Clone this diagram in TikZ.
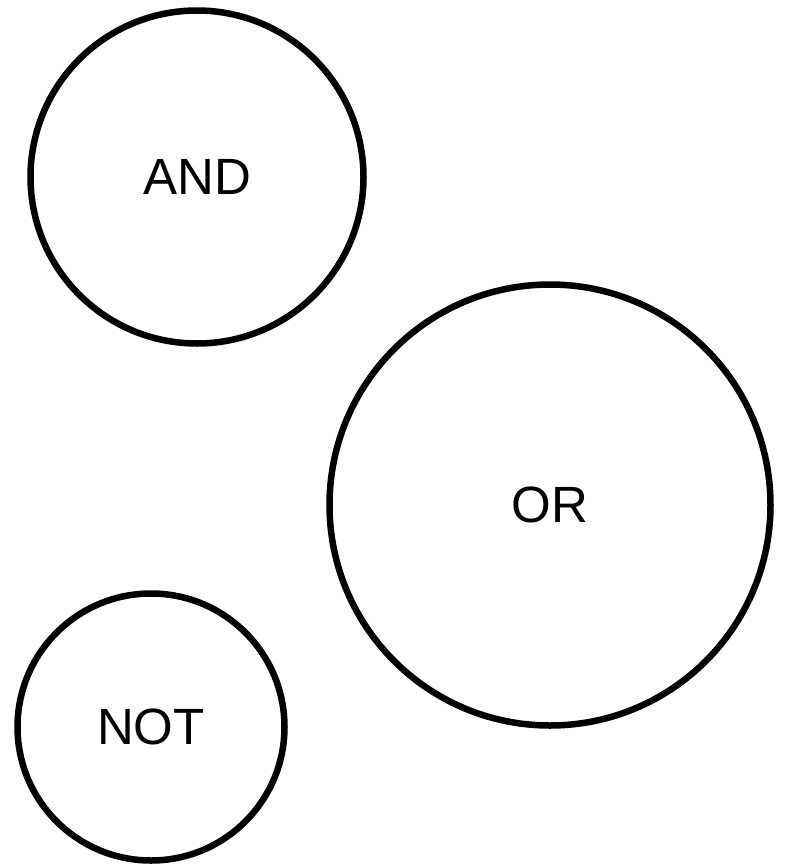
\documentclass[tikz,border=0pt]{standalone}
\usepackage{fontspec}
\setmainfont{Liberation Sans}
\usetikzlibrary{positioning}

\begin{document}
\begin{tikzpicture}[
    x=1pt, y=-1pt,
    gate/.style={draw,circle,line width=6.5pt,inner sep=0pt,
                 minimum size=#1,font=\fontsize{51}{60}\selectfont}]

    \useasboundingbox (0,0) rectangle (790,865);

    % operator circles
    \node[gate=333pt] (and) at (197,177) {AND};
    \node[gate=441pt] (or)  at (550,505) {OR};
    \node[gate=267pt] (not) at (151,727) {NOT};
  \end{tikzpicture}
\end{document}
